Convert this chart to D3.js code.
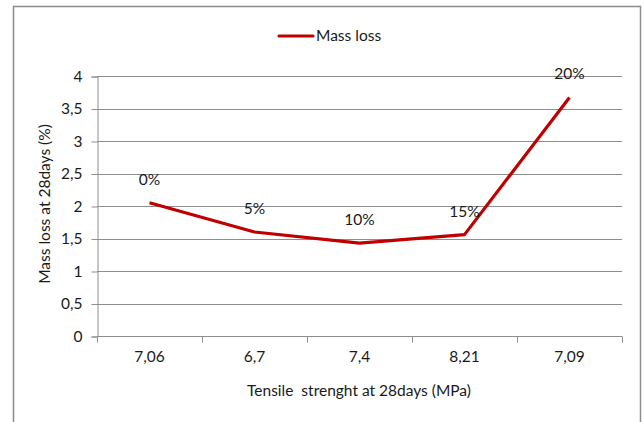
<!DOCTYPE html>
<html><head><meta charset="utf-8">
<script src="https://cdn.jsdelivr.net/npm/d3@7"></script>
<style>body{margin:0;background:#fff;} svg{display:block;} text{font-family:Lato, "Open Sans", sans-serif;fill:#1a1a1a;}</style>
</head><body>
<svg id="chart" width="644" height="422"></svg>
<script>
const categories = ["7,06", "6,7", "7,4", "8,21", "7,09"];
const massLoss = [2.05, 1.6, 1.43, 1.56, 3.67];
const pointLabels = ["0%", "5%", "10%", "15%", "20%"];
const yTicks = [0, 0.5, 1, 1.5, 2, 2.5, 3, 3.5, 4];

const svg = d3.select("#chart");
const m = {left: 97, right: 622, top: 76, bottom: 336};

// outer frame
svg.append("rect").attr("x", 13.5).attr("y", 6.5).attr("width", 627).attr("height", 430)
  .attr("fill", "none").attr("stroke", "#8c8c8c").attr("stroke-width", 1.5);

const x = d3.scaleBand().domain(categories).range([m.left, m.right]);
const y = d3.scaleLinear().domain([0, 4]).range([m.bottom, m.top]);

// gridlines
svg.append("g").selectAll("line").data(yTicks.filter(d => d > 0)).join("line")
  .attr("x1", m.left).attr("x2", m.right)
  .attr("y1", d => Math.round(y(d)) + 0.5).attr("y2", d => Math.round(y(d)) + 0.5)
  .attr("stroke", "#8e8e8e").attr("stroke-width", 1);

// y axis
const yAxis = d3.axisLeft(y).tickValues(yTicks).tickSize(6).tickPadding(9)
  .tickFormat(d => String(d).replace(".", ","));
const gy = svg.append("g").attr("transform", `translate(${m.left + 0.5},0.5)`).call(yAxis);
gy.selectAll("path,line").attr("stroke", "#8e8e8e");
gy.selectAll("text").style("font-size", "15.5px").style("font-family", "Lato, sans-serif").attr("fill", "#1a1a1a");

// x axis
const xAxis = d3.axisBottom(x).tickSize(0).tickPadding(14);
const gx = svg.append("g").attr("transform", `translate(0,${m.bottom + 0.5})`).call(xAxis);
gx.select("path").attr("d", `M${m.left},0H${m.right}`).attr("stroke", "#8e8e8e");
gx.selectAll("text").style("font-size", "15.5px").style("font-family", "Lato, sans-serif").attr("fill", "#1a1a1a");
// category boundary ticks
const bounds = categories.map(c => x(c)).concat([x(categories[categories.length - 1]) + x.bandwidth()]);
gx.append("g").selectAll("line").data(bounds).join("line")
  .attr("x1", d => Math.round(d) + 0.5).attr("x2", d => Math.round(d) + 0.5)
  .attr("y1", 0).attr("y2", 6).attr("stroke", "#8e8e8e");

// line
const cx = d => x(d) + x.bandwidth() / 2;
const line = d3.line().x((d, i) => cx(categories[i])).y(d => y(d));
svg.append("path").datum(massLoss).attr("d", line)
  .attr("fill", "none").attr("stroke", "#c00000").attr("stroke-width", 3.2).attr("stroke-linejoin", "round");

// point labels
svg.append("g").selectAll("text").data(massLoss).join("text")
  .attr("x", (d, i) => cx(categories[i])).attr("y", d => y(d) - 18)
  .attr("text-anchor", "middle").style("font-size", "15.5px")
  .text((d, i) => pointLabels[i]);

// axis titles
svg.append("text").attr("transform", `translate(50,${(m.top + m.bottom) / 2 - 2}) rotate(-90)`)
  .attr("text-anchor", "middle").style("font-size", "15.5px").text("Mass loss at 28days (%)");
svg.append("text").attr("x", 359).attr("y", 396).attr("text-anchor", "middle")
  .style("font-size", "15.5px").attr("xml:space", "preserve").style("white-space", "pre")
  .text("Tensile  strenght at 28days (MPa)");

// legend
const lg = svg.append("g");
lg.append("line").attr("x1", 279).attr("x2", 313).attr("y1", 36).attr("y2", 36)
  .attr("stroke", "#c00000").attr("stroke-width", 3.2).attr("stroke-linecap", "round");
lg.append("text").attr("x", 316).attr("y", 41).style("font-size", "15.5px").text("Mass loss");
</script>
</body></html>
